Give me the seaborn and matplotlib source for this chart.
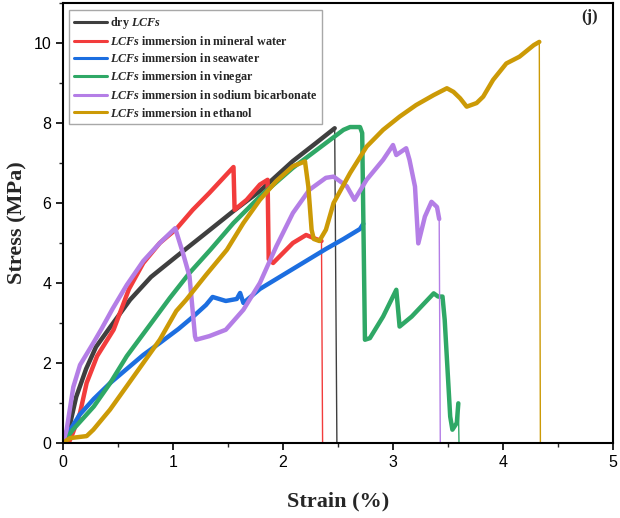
import matplotlib
matplotlib.use("Agg")
import matplotlib.pyplot as plt
import seaborn as sns
from matplotlib.ticker import MultipleLocator

# stress-strain curves (strain in %, stress in MPa)
dry_x = [0, 0.05, 0.12, 0.21, 0.3, 0.43, 0.61, 0.8, 1.03, 1.3, 1.55, 1.79, 2.09, 2.3, 2.47, 2.49]
dry_y = [0, 0.3, 1.15, 1.85, 2.4, 2.9, 3.58, 4.15, 4.66, 5.25, 5.8, 6.3, 7.05, 7.5, 7.87, 0]

mineral_x = [0, 0.06, 0.09, 0.155, 0.215, 0.31, 0.46, 0.6, 0.73, 0.88, 1.03, 1.18, 1.33, 1.55, 1.56,
             1.67, 1.79, 1.86, 1.87, 1.91, 2.0, 2.09, 2.21, 2.3, 2.35, 2.36]
mineral_y = [0, 0.05, 0.25, 0.75, 1.5, 2.17, 2.83, 3.85, 4.5, 5.0, 5.35, 5.83, 6.25, 6.9, 5.83,
             6.08, 6.46, 6.58, 4.6, 4.5, 4.75, 5.0, 5.2, 5.1, 5.05, 0]

sea_x = [0, 0.06, 0.15, 0.28, 0.43, 0.58, 0.73, 0.88, 1.05, 1.18, 1.3, 1.36, 1.48, 1.58, 1.61, 1.64,
         1.79, 1.94, 2.09, 2.24, 2.39, 2.55, 2.7, 2.73]
sea_y = [0, 0.3, 0.7, 1.1, 1.5, 1.85, 2.2, 2.5, 2.85, 3.15, 3.45, 3.65, 3.55, 3.6, 3.75, 3.5,
         3.85, 4.1, 4.35, 4.6, 4.85, 5.1, 5.35, 5.48]

vinegar_x = [0, 0.09, 0.28, 0.43, 0.58, 0.79, 0.97, 1.15, 1.34, 1.55, 1.79, 2.09, 2.39, 2.55, 2.61, 2.7,
             2.72, 2.745, 2.79, 2.91, 3.03, 3.06, 3.17, 3.37, 3.41, 3.45, 3.47, 3.52, 3.54, 3.58, 3.594, 3.6]
vinegar_y = [0, 0.33, 0.91, 1.5, 2.17, 2.95, 3.62, 4.25, 4.83, 5.5, 6.16, 6.88, 7.5, 7.83, 7.9, 7.9,
             7.75, 2.58, 2.62, 3.16, 3.83, 2.91, 3.16, 3.74, 3.66, 3.66, 3.08, 0.66, 0.33, 0.5, 0.99, 0]

soda_x = [0, 0.033, 0.094, 0.155, 0.276, 0.35, 0.45, 0.58, 0.73, 0.88, 1.02, 1.09, 1.15, 1.2, 1.21,
          1.33, 1.48, 1.64, 1.79, 1.94, 2.09, 2.24, 2.39, 2.46, 2.49, 2.58, 2.65, 2.76, 2.91, 3.0,
          3.03, 3.12, 3.15, 3.2, 3.23, 3.29, 3.35, 3.4, 3.42, 3.43]
soda_y = [0, 0.33, 1.4, 1.95, 2.5, 2.85, 3.35, 3.95, 4.55, 5.0, 5.37, 4.75, 4.17, 2.67, 2.58,
          2.67, 2.83, 3.33, 4.0, 4.92, 5.75, 6.33, 6.63, 6.66, 6.6, 6.42, 6.08, 6.58, 7.08, 7.45,
          7.2, 7.37, 7.08, 6.41, 4.99, 5.66, 6.03, 5.9, 5.6, 0]

ethanol_x = [0, 0.064, 0.215, 0.276, 0.427, 0.58, 0.73, 0.88, 1.03, 1.12, 1.3, 1.49, 1.64, 1.79, 1.94,
             2.09, 2.2, 2.23, 2.26, 2.28, 2.33, 2.39, 2.46, 2.61, 2.76, 2.91, 3.06, 3.21, 3.37, 3.49,
             3.55, 3.61, 3.67, 3.76, 3.82, 3.91, 4.03, 4.15, 4.28, 4.33, 4.34]
ethanol_y = [0, 0.12, 0.17, 0.33, 0.83, 1.42, 2.0, 2.58, 3.3, 3.58, 4.2, 4.83, 5.5, 6.08, 6.55,
             6.92, 7.04, 6.42, 5.33, 5.1, 5.05, 5.33, 6.0, 6.75, 7.41, 7.83, 8.16, 8.45, 8.7, 8.87,
             8.78, 8.62, 8.41, 8.5, 8.66, 9.08, 9.49, 9.66, 9.95, 10.03, 0]

labels = ['dry $\\mathit{LCFs}$',
          '$\\mathit{LCFs}$ immersion in mineral water',
          '$\\mathit{LCFs}$ immersion in seawater',
          '$\\mathit{LCFs}$ immersion in vinegar',
          '$\\mathit{LCFs}$ immersion in sodium bicarbonate',
          '$\\mathit{LCFs}$ immersion in ethanol']
colors = ['#3f3f3f', '#f23c3c', '#1c6ee0', '#2fa866', '#b47ee6', '#cc9a06']
curves = [(dry_x, dry_y), (mineral_x, mineral_y), (sea_x, sea_y),
          (vinegar_x, vinegar_y), (soda_x, soda_y), (ethanol_x, ethanol_y)]

sns.set_style('ticks')
plt.rcParams['font.family'] = ['Liberation Sans', 'DejaVu Sans']
plt.rcParams['mathtext.fontset'] = 'custom'
plt.rcParams['mathtext.it'] = 'Liberation Serif:italic:bold'
plt.rcParams['mathtext.rm'] = 'Liberation Serif:bold'
plt.rcParams['mathtext.bf'] = 'Liberation Serif:bold'

fig, ax = plt.subplots(figsize=(6.2, 5.18), dpi=100)
fig.subplots_adjust(left=0.1016, right=0.9887, top=0.994, bottom=0.145)

for (xs, ys), lab, col in zip(curves, labels, colors):
    # thin full trace (fracture drops), thick band for the loaded part
    sns.lineplot(x=xs, y=ys, sort=False, estimator=None, color=col, lw=1.0, ax=ax)
    end = -1 if ys[-1] == 0 else len(ys)
    sns.lineplot(x=xs[:end], y=ys[:end], sort=False, estimator=None, color=col, lw=3.2,
                 label=lab, ax=ax)

ax.set_xlim(0, 5)
ax.set_ylim(0, 11)
ax.xaxis.set_major_locator(MultipleLocator(1))
ax.xaxis.set_minor_locator(MultipleLocator(0.5))
ax.yaxis.set_major_locator(MultipleLocator(2))
ax.yaxis.set_minor_locator(MultipleLocator(1))
ax.tick_params(which='major', direction='out', length=5, width=1.2, labelsize=11.5, colors='black')
ax.tick_params(which='minor', direction='out', length=3, width=1.0)
for sp in ax.spines.values():
    sp.set_visible(True)
    sp.set_linewidth(1.5)
    sp.set_color('black')

ax.set_xlabel('Strain (%)', fontfamily='Liberation Serif', fontweight='bold', fontsize=16, labelpad=16)
ax.set_ylabel('Stress (MPa)', fontfamily='Liberation Serif', fontweight='bold', fontsize=16, labelpad=4)

ax.text(0.958, 0.968, '(j)', transform=ax.transAxes, ha='center', va='center',
        fontfamily='Liberation Serif', fontweight='bold', fontsize=12)

leg = ax.legend(loc='upper left', bbox_to_anchor=(0.011, 0.984), borderaxespad=0,
                prop={'family': 'Liberation Serif', 'weight': 'bold', 'size': 8.7},
                handlelength=2.7, handletextpad=0.3, borderpad=0.4, labelspacing=0.34,
                fancybox=False, framealpha=1, edgecolor='#a8a8a8')
leg.get_frame().set_linewidth(1.0)
for h in leg.get_lines():
    h.set_linewidth(2.2)

fig.savefig('out.png', dpi=100)
